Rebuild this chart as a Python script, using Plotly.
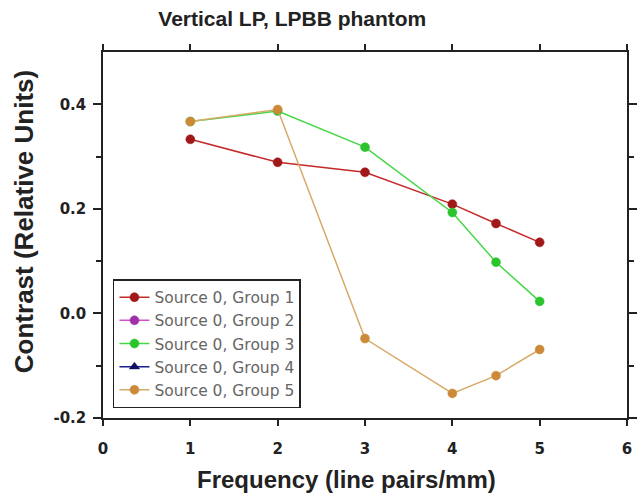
import plotly.graph_objects as go

# Spatial frequency (line pairs/mm) and measured contrast for each group
freq = [1, 2, 3, 4, 4.5, 5]
group1 = [0.333, 0.289, 0.270, 0.209, 0.172, 0.136]
group2 = [None, None, None, None, None, None]
group3 = [0.367, 0.387, 0.318, 0.193, 0.098, 0.023]
group4 = [None, None, None, None, None, None]
group5 = [0.367, 0.390, -0.048, -0.153, -0.119, -0.069]

series = [
    ("Source 0, Group 1", group1, "#c42a2a", "#a01818", "circle"),
    ("Source 0, Group 2", group2, "#d050d0", "#a030a8", "circle"),
    ("Source 0, Group 3", group3, "#44d844", "#2cc42c", "circle"),
    ("Source 0, Group 4", group4, "#1c1c8c", "#101060", "triangle-up"),
    ("Source 0, Group 5", group5, "#d8aa68", "#cc8a38", "circle"),
]

fig = go.Figure()
for name, vals, line_col, mark_col, sym in series:
    fig.add_trace(go.Scatter(
        x=freq, y=vals, name=name, mode="lines+markers",
        line=dict(color=line_col, width=1.5),
        marker=dict(color=mark_col, size=9, symbol=sym,
                    line=dict(color=mark_col, width=0.5)),
    ))

FONT = "Liberation Sans, Arial, sans-serif"
WIDE = "DejaVu Sans, Verdana, sans-serif"
tick_font = dict(family=WIDE, size=15, color="#222")
fig.update_layout(
    width=641, height=498,
    margin=dict(l=103, r=4, t=52, b=80),
    paper_bgcolor="white", plot_bgcolor="white",
    title=dict(text="<b>Vertical LP, LPBB phantom</b>", x=0.456, xanchor="center",
               y=0.962, yanchor="middle",
               font=dict(family=FONT, size=21, color="#222")),
    xaxis=dict(range=[0, 6], tickvals=[0, 1, 2, 3, 4, 5, 6],
               ticktext=["<b>%d</b>" % v for v in range(7)],
               ticks="outside", ticklen=6, tickcolor="#222", tickwidth=1.5,
               ticklabelstandoff=10,
               showline=True, linecolor="#222", linewidth=1.5, mirror="ticks",
               showgrid=False, zeroline=False, tickfont=tick_font),
    yaxis=dict(range=[-0.2, 0.5], tickvals=[-0.2, 0.0, 0.2, 0.4],
               ticktext=["<b>-0.2</b>", "<b>0.0</b>", "<b>0.2</b>", "<b>0.4</b>"],
               ticks="outside", ticklen=8, tickcolor="#222", tickwidth=1.5,
               ticklabelstandoff=4,
               minor=dict(tickvals=[-0.1, 0.1, 0.3], ticks="outside", ticklen=5, tickcolor="#222"),
               showline=True, linecolor="#222", linewidth=1.5, mirror="ticks",
               showgrid=False, zeroline=False, tickfont=tick_font),
    legend=dict(x=0.019, y=0.027, xanchor="left", yanchor="bottom",
                bgcolor="white", bordercolor="#222", borderwidth=1.5,
                font=dict(family=WIDE, size=15.5, color="#666"),
                tracegroupgap=0, itemwidth=30),
    showlegend=True,
)

# Axis titles placed as annotations so they can sit off-centre
fig.add_annotation(text="<b>Frequency (line pairs/mm)</b>", xref="paper", yref="paper",
                   x=0.465, y=-0.167, xanchor="center", yanchor="middle", showarrow=False,
                   font=dict(family=FONT, size=24, color="#222"))
fig.add_annotation(text="<b>Contrast (Relative Units)</b>", xref="paper", yref="paper",
                   x=-0.152, y=0.536, xanchor="center", yanchor="middle", showarrow=False,
                   textangle=-90, font=dict(family=FONT, size=26, color="#222"))

fig.write_html("out.html")
